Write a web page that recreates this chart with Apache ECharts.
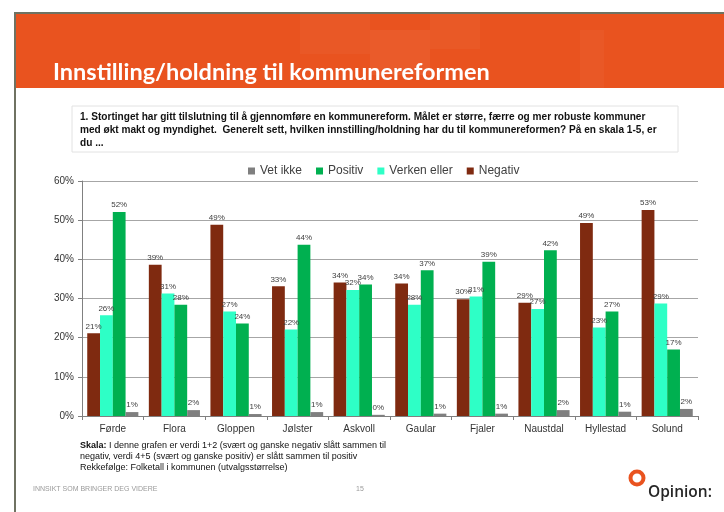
<!DOCTYPE html>
<html>
<head>
<meta charset="utf-8">
<script src="https://cdn.jsdelivr.net/npm/echarts@6/dist/echarts.min.js"></script>
<style>
  html, body { margin: 0; padding: 0; background: #fff; }
  #chart { width: 724px; height: 512px; }
</style>
</head>
<body>
<div id="chart"></div>
<script>
  // kommuner, i rekkefølge etter folketall
  var categories = ['Førde', 'Flora', 'Gloppen', 'Jølster', 'Askvoll', 'Gaular', 'Fjaler', 'Naustdal', 'Hyllestad', 'Solund'];
  // andeler i prosent, lest av grafen
  var negativ = [21.1, 38.6, 48.8, 33.1, 34.1, 33.8, 29.8, 28.9, 49.3, 52.6];
  var verken  = [25.7, 31.3, 26.7, 22.1, 32.2, 28.4, 30.5, 27.3, 22.6, 28.7];
  var positiv = [52.1, 28.4, 23.6, 43.7, 33.6, 37.2, 39.4, 42.3, 26.7, 17.0];
  var vetIkke = [1.0, 1.5, 0.5, 1.0, 0.3, 0.6, 0.6, 1.5, 1.1, 1.8];
  var legendOrder = ['Vet ikke', 'Positiv', 'Verken eller', 'Negativ'];
  var yTicks = [0, 10, 20, 30, 40, 50, 60];

  var FONT = '"Liberation Sans", Arial, sans-serif';
  var chart = echarts.init(document.getElementById('chart'));

  function bar(name, data, color) {
    return {
      name: name, type: 'bar', data: data,
      barGap: '0%', barCategoryGap: '17%',
      itemStyle: { color: color },
      label: {
        show: true, position: 'top', distance: 3,
        fontFamily: FONT, fontSize: 8, color: '#404040',
        formatter: function (p) { return Math.round(p.value) + '%'; }
      }
    };
  }

  var question = [
    '1. Stortinget har gitt tilslutning til å gjennomføre en kommunereform. Målet er større, færre og mer robuste kommuner',
    'med økt makt og myndighet.  Generelt sett, hvilken innstilling/holdning har du til kommunereformen? På en skala 1-5, er',
    'du ...'
  ];

  var graphics = [
    // ramme
    { type: 'rect', shape: { x: 14, y: 12, width: 2, height: 500 }, style: { fill: '#6f7262' }, z: 10 },
    { type: 'rect', shape: { x: 14, y: 12, width: 710, height: 2 }, style: { fill: '#6f7262' }, z: 10 },
    // oransje topp
    { type: 'rect', shape: { x: 16, y: 14, width: 708, height: 74 }, style: { fill: '#e9531f' }, z: 1 },
    { type: 'rect', shape: { x: 300, y: 14, width: 70, height: 40 }, style: { fill: 'rgba(255,255,255,0.03)' }, z: 2 },
    { type: 'rect', shape: { x: 370, y: 30, width: 60, height: 45 }, style: { fill: 'rgba(255,255,255,0.05)' }, z: 2 },
    { type: 'rect', shape: { x: 430, y: 14, width: 50, height: 35 }, style: { fill: 'rgba(255,255,255,0.035)' }, z: 2 },
    { type: 'rect', shape: { x: 580, y: 30, width: 24, height: 58 }, style: { fill: 'rgba(255,255,255,0.03)' }, z: 2 },
    { type: 'text', x: 53, y: 72, style: {
      text: 'Innstilling/holdning til kommunereformen', fill: '#fff',
      font: 'bold 23.5px Lato, "Open Sans", sans-serif', textVerticalAlign: 'middle' }, z: 3 },
    // spørsmål
    { type: 'rect', shape: { x: 72, y: 106, width: 606, height: 46 },
      style: { fill: '#fff', stroke: '#e2e2e2', lineWidth: 1 }, z: 1 }
  ];
  question.forEach(function (t, i) {
    graphics.push({ type: 'text', x: 80, y: 117 + i * 13, style: {
      text: t, fill: '#111', font: 'bold 10.1px ' + FONT, textVerticalAlign: 'middle' }, z: 3 });
  });
  // fotnote
  graphics.push(
    { type: 'text', x: 80, y: 446, style: {
      text: '{b|Skala:} I denne grafen er verdi 1+2 (svært og ganske negativ slått sammen til',
      rich: { b: { fontWeight: 'bold', fontSize: 9, fontFamily: FONT, fill: '#111' } },
      fill: '#111', font: '9px ' + FONT, textVerticalAlign: 'middle' }, z: 3 },
    { type: 'text', x: 80, y: 457, style: {
      text: 'negativ, verdi 4+5 (svært og ganske positiv) er slått sammen til positiv',
      fill: '#111', font: '9px ' + FONT, textVerticalAlign: 'middle' }, z: 3 },
    { type: 'text', x: 80, y: 468, style: {
      text: 'Rekkefølge: Folketall i kommunen (utvalgsstørrelse)',
      fill: '#111', font: '9px ' + FONT, textVerticalAlign: 'middle' }, z: 3 },
    { type: 'text', x: 33, y: 489, style: {
      text: 'INNSIKT SOM BRINGER DEG VIDERE', fill: '#9a9a9a', font: '7px ' + FONT, textVerticalAlign: 'middle' }, z: 3 },
    { type: 'text', x: 356, y: 489, style: {
      text: '15', fill: '#9a9a9a', font: '7px ' + FONT, textVerticalAlign: 'middle' }, z: 3 },
    // logo
    { type: 'ring', shape: { cx: 637, cy: 478, r: 8.5, r0: 4.5 }, style: { fill: '#e9531f' }, z: 3 },
    { type: 'text', x: 648, y: 493, style: {
      text: 'Opinion:', fill: '#262626', font: '600 15.5px "Open Sans", sans-serif', textVerticalAlign: 'middle' }, z: 3 }
  );

  chart.setOption({
    animation: false,
    backgroundColor: '#fff',
    graphic: graphics,
    legend: {
      data: legendOrder, top: 160, left: 243,
      icon: 'rect', itemWidth: 7, itemHeight: 7, itemGap: 14,
      textStyle: { fontFamily: FONT, fontSize: 12, color: '#404040' }
    },
    grid: { left: 82, right: 26, top: 181, bottom: 96 },
    xAxis: {
      type: 'category', data: categories,
      axisLine: { lineStyle: { color: '#808080' } },
      axisTick: { show: true, length: 4, lineStyle: { color: '#808080' } },
      axisLabel: { fontFamily: FONT, fontSize: 10, color: '#333', margin: 8 }
    },
    yAxis: {
      type: 'value', min: yTicks[0], max: yTicks[yTicks.length - 1], interval: 10,
      axisLine: { show: true, lineStyle: { color: '#808080' } },
      axisTick: { show: true, length: 4, lineStyle: { color: '#808080' } },
      splitLine: { lineStyle: { color: '#a6a6a6' } },
      axisLabel: { fontFamily: FONT, fontSize: 10, color: '#333', margin: 8, formatter: '{value}%' }
    },
    series: [
      bar('Negativ', negativ, '#7f2a10'),
      bar('Verken eller', verken, '#2effc6'),
      bar('Positiv', positiv, '#00b050'),
      bar('Vet ikke', vetIkke, '#7f7f7f')
    ]
  });
</script>
</body>
</html>
